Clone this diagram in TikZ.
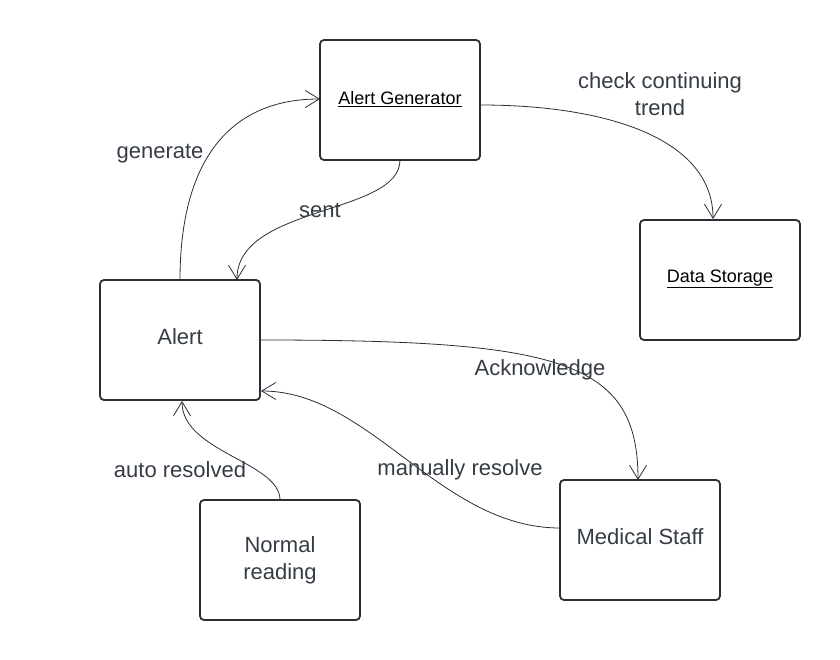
\documentclass[tikz,border=0pt]{standalone}
\usepackage{fontspec}
\setmainfont{Liberation Sans}
\usetikzlibrary{arrows.meta}
\definecolor{txt}{HTML}{363C45}
\definecolor{bord}{HTML}{2A2E35}
\begin{document}
\begin{tikzpicture}[x=1pt,y=-1pt,
  box/.style={draw=bord,line width=1.8pt,rounded corners=4pt,minimum width=160pt,minimum height=120pt,inner sep=0pt},
  lbl/.style={text=txt,font=\fontsize{22}{27}\selectfont,align=center,inner sep=0pt},
  ulbl/.style={text=black,font=\fontsize{18}{22}\selectfont,inner sep=0pt},
  conn/.style={draw=bord,line width=0.8pt,-{Straight Barb[length=14pt,width=17pt,line width=0.8pt]}}]
\useasboundingbox (0,0) rectangle (840,660);
% boxes
\node[box] (gen) at (400,100) {};
\node[box] (store) at (720,280) {};
\node[box] (alert) at (180,340) {};
\node[box] (normal) at (280,560) {};
\node[box] (staff) at (640,540) {};
% box texts
\node[ulbl] (gent) at (400,99) {\underline{Alert Generator}};
\node[ulbl] (storet) at (720,279) {\underline{Data Storage}};
\node[lbl] (alertt) at (180,337) {Alert};
\node[lbl] (normalt) at (280,560) {Normal\\reading};
\node[lbl] (stafft) at (640,537) {Medical Staff};
% anchor coordinates
\coordinate (a1) at (180,280);
\coordinate (g1) at (320,99);
\coordinate (g2) at (400,160);
\coordinate (a2) at (237,280);
\coordinate (g3) at (480,105);
\coordinate (s1) at (713,219);
\coordinate (a3) at (260,340);
\coordinate (m1) at (638,480);
\coordinate (m2) at (560,528);
\coordinate (a4) at (261,391);
\coordinate (n1) at (280,500);
\coordinate (a5) at (182,401);
% connectors
\draw[conn] (a1) .. controls (180,160) and (230,99) .. (g1);
\draw[conn] (g2) .. controls (400,215) and (237,205) .. (a2);
\draw[conn] (g3) .. controls (610,105) and (713,140) .. (s1);
\draw[conn] (a3) .. controls (560,340) and (638,360) .. (m1);
\draw[conn] (m2) .. controls (440,528) and (370,391) .. (a4);
\draw[conn] (n1) .. controls (280,462) and (182,452) .. (a5);
% labels
\node[lbl] (lgen) at (160,154) {generate};
\node[lbl] (lsent) at (320,210) {sent};
\node[lbl] (lcheck) at (660,94) {check continuing\\trend};
\node[lbl] (lack) at (540,370) {Acknowledge};
\node[lbl] (lman) at (460,470) {manually resolve};
\node[lbl] (lauto) at (180,470) {auto resolved};
\end{tikzpicture}
\end{document}
